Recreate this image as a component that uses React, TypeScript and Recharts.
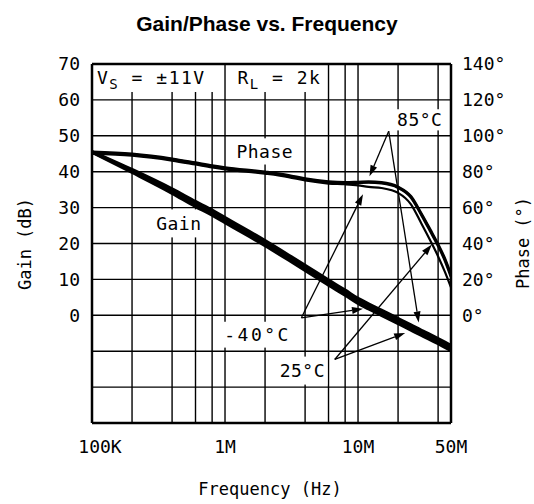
import React from 'react';
import { ComposedChart, Line, XAxis, YAxis, ReferenceLine, ReferenceArea } from 'recharts';

const freqs = [1e5, 2e5, 4e5, 6e5, 8e5, 1e6, 2e6, 3e6, 4e6, 6e6, 8e6, 1e7, 1.2e7, 1.5e7, 2e7, 2.5e7, 3e7, 3.5e7, 4e7, 4.5e7, 5e7];

// open loop gain (dB), three temperatures
const gain85 = [45.6, 40.6, 35.2, 31.7, 29.3, 27.2, 20.8, 16.8, 13.9, 9.8, 7.0, 4.7, 3.2, 1.4, -0.9, -2.7, -4.2, -5.4, -6.5, -7.5, -8.4];
const gain25 = [45.5, 40.2, 34.6, 31.0, 28.6, 26.5, 20.1, 16.1, 13.2, 9.1, 6.3, 4.0, 2.5, 0.7, -1.6, -3.4, -4.9, -6.1, -7.2, -8.2, -9.1];
const gainM40 = [45.4, 39.8, 34.0, 30.3, 27.9, 25.8, 19.4, 15.4, 12.5, 8.4, 5.6, 3.3, 1.8, 0.0, -2.3, -4.1, -5.6, -6.8, -7.9, -8.9, -9.8];

// phase (degrees), three temperatures
const phase85 = [91.0, 89.9, 87.2, 85.0, 83.4, 82.3, 79.9, 78.0, 76.1, 74.4, 74.0, 74.2, 74.4, 74.0, 71.5, 66.2, 56.5, 47.5, 39.5, 31.5, 22.5];
const phaseM40 = [90.6, 89.5, 86.8, 84.6, 83.0, 81.9, 79.5, 77.6, 75.7, 74.0, 73.6, 73.8, 74.0, 73.6, 71.1, 65.7, 55.9, 46.8, 38.7, 30.6, 21.5];
const phase25 = [90.0, 88.9, 86.2, 84.0, 82.4, 81.3, 78.9, 77.0, 75.1, 73.4, 73.0, 72.4, 71.5, 70.9, 68.2, 61.8, 51.0, 41.5, 32.8, 24.2, 15.5];

const xTicks = [1e5, 1e6, 1e7, 5e7];
const xTickLabels = ['100K', '1M', '10M', '50M'];
const gainTicks = [0, 10, 20, 30, 40, 50, 60, 70];
const phaseTicks = [0, 20, 40, 60, 80, 100, 120, 140];
const gridFreqs = [2e5, 4e5, 6e5, 8e5, 1e6, 2e6, 4e6, 6e6, 8e6, 1e7, 2e7, 4e7];
const gridGains = [-20, -10, 0, 10, 20, 30, 40, 50, 60];

// callout arrows in (Hz, dB): from -> to
const arrows = [
  [17.0e6, 51.3, 12.2e6, 38.7],
  [17.0e6, 51.3, 28.6e6, -2.0],
  [3.75e6, -0.7, 10.9e6, 1.8],
  [3.75e6, -0.7, 10.9e6, 33.7],
  [6.68e6, -12.3, 22.6e6, -4.9],
  [6.68e6, -12.3, 35.9e6, 19.7],
];

// text callouts with a white box (Hz, dB)
const callouts = [
  { text: 'Phase', f1: 1.17e6, f2: 3.38e6, g1: 42.0, g2: 49.3 },
  { text: 'Gain', f1: 2.86e5, f2: 7.07e5, g1: 21.7, g2: 29.5 },
  { text: '85°C', f1: 18.2e6, f2: 46.6e6, g1: 51.5, g2: 57.4 },
  { text: '-40°C', f1: 8.4e5, f2: 3.68e6, g1: -9.0, g2: -1.8 },
  { text: '25°C', f1: 2.47e6, f2: 5.89e6, g1: -19.3, g2: -11.5 },
];

const data = freqs.map((f, i) => ({
  f,
  gain85: gain85[i],
  gain25: gain25[i],
  gainM40: gainM40[i],
  phase85: phase85[i],
  phaseM40: phaseM40[i],
  phase25: phase25[i],
}));

const FONT = '"DejaVu Sans Mono", monospace';
const FS = 18;

const Arrow = (p: any) => {
  const { x1, y1, x2, y2 } = p;
  const dx = x2 - x1;
  const dy = y2 - y1;
  const len = Math.hypot(dx, dy) || 1;
  const ux = dx / len;
  const uy = dy / len;
  const hl = 11;
  const hw = 3.5;
  const bx = x2 - ux * hl;
  const by = y2 - uy * hl;
  return (
    <g>
      <line x1={x1} y1={y1} x2={bx} y2={by} stroke="#000" strokeWidth={1.3} />
      <polygon
        points={`${x2},${y2} ${bx + uy * hw},${by - ux * hw} ${bx - uy * hw},${by + ux * hw}`}
        fill="#000"
      />
    </g>
  );
};

const calloutShape = (text: string) => (p: any) => (
  <g>
    <rect x={p.x} y={p.y} width={p.width} height={p.height} fill="#fff" />
    <text
      x={p.x + p.width / 2}
      y={p.y + p.height / 2 + FS * 0.36}
      textAnchor="middle"
      fontFamily={FONT}
      fontSize={FS}
      fill="#000"
      letterSpacing={text === '-40°C' ? 2.5 : 0.5}
    >
      {text}
    </text>
  </g>
);

const condShape = (main: string, sub: string, rest: string, pad: number) => (p: any) => (
  <g>
    <rect x={p.x} y={p.y} width={p.width} height={p.height} fill="#fff" />
    <text
      x={p.x + pad}
      y={p.y + p.height / 2 + FS * 0.36}
      fontFamily={FONT}
      fontSize={FS}
      fill="#000"
      letterSpacing={1.5}
    >
      {main}
      <tspan dy={5} fontSize={14}>{sub}</tspan>
      <tspan dy={-5}>{rest}</tspan>
    </text>
  </g>
);

const XTick = (p: any) => {
  const i = xTicks.indexOf(p.payload.value);
  return (
    <text
      x={p.x + (i === 0 ? 8 : 0)}
      y={p.y}
      dy="0.73em"
      textAnchor="middle"
      fontFamily={FONT}
      fontSize={FS}
      fill="#000"
    >
      {xTickLabels[i]}
    </text>
  );
};

const axisTitle = (extra: React.CSSProperties): React.CSSProperties => ({
  position: 'absolute',
  fontFamily: FONT,
  fontSize: 17,
  color: '#000',
  whiteSpace: 'nowrap',
  transform: 'translate(-50%, -50%)',
  ...extra,
});

export default function App() {
  return (
    <div style={{ position: 'relative', width: 534, height: 504, background: '#fff' }}>
      <style>{'body{margin:0}'}</style>
      <div
        style={{
          position: 'absolute',
          top: 14,
          left: 0,
          width: 534,
          textAlign: 'center',
          fontFamily: '"Liberation Sans", Arial, sans-serif',
          fontWeight: 'bold',
          fontSize: 21,
          lineHeight: '20px',
        }}
      >
        Gain/Phase vs. Frequency
      </div>
      <ComposedChart width={534} height={504} data={data} margin={{ top: 64, right: 0, bottom: 0, left: 0 }}>
        <XAxis
          dataKey="f"
          type="number"
          scale="log"
          domain={[1e5, 5e7]}
          ticks={xTicks}
          tick={<XTick />}
          tickLine={false}
          tickMargin={11}
          height={81}
          axisLine={{ stroke: '#000', strokeWidth: 2.5 }}
          allowDataOverflow
        />
        <YAxis
          yAxisId="gain"
          type="number"
          domain={[-30, 70]}
          ticks={gainTicks}
          width={92}
          tickLine={false}
          tickMargin={6}
          tick={{ fill: '#000', fontSize: FS, fontFamily: FONT }}
          axisLine={{ stroke: '#000', strokeWidth: 2.5 }}
          allowDataOverflow
        />
        <YAxis
          yAxisId="phase"
          orientation="right"
          type="number"
          domain={[-60, 140]}
          ticks={phaseTicks}
          tickFormatter={(v: number) => `${v}°`}
          width={83}
          tickLine={false}
          tickMargin={5}
          tick={{ fill: '#000', fontSize: FS, fontFamily: FONT }}
          axisLine={{ stroke: '#000', strokeWidth: 2.5 }}
          allowDataOverflow
        />

        {gridGains.map((g) => (
          <ReferenceLine key={`h${g}`} yAxisId="gain" y={g} stroke="#000" strokeWidth={1.4} zIndex={50} />
        ))}
        {gridFreqs.map((f) => (
          <ReferenceLine key={`v${f}`} yAxisId="gain" x={f} stroke="#000" strokeWidth={1.4} zIndex={50} />
        ))}

        <ReferenceArea
          yAxisId="gain"
          x1={1e5}
          x2={0.975e6}
          y1={62.2}
          y2={70}
          zIndex={150}
          shape={condShape('V', 'S', ' = ±11V', 5)}
        />
        <ReferenceArea
          yAxisId="gain"
          x1={1.025e6}
          x2={5.85e6}
          y1={62.2}
          y2={70}
          zIndex={150}
          shape={condShape('R', 'L', ' = 2k', 11)}
        />
        {callouts.map((c) => (
          <ReferenceArea
            key={c.text}
            yAxisId="gain"
            x1={c.f1}
            x2={c.f2}
            y1={c.g1}
            y2={c.g2}
            zIndex={150}
            shape={calloutShape(c.text)}
          />
        ))}

        <Line yAxisId="gain" type="monotone" dataKey="gain85" stroke="#000" strokeWidth={3.2} dot={false} activeDot={false} isAnimationActive={false} />
        <Line yAxisId="gain" type="monotone" dataKey="gain25" stroke="#000" strokeWidth={3.2} dot={false} activeDot={false} isAnimationActive={false} />
        <Line yAxisId="gain" type="monotone" dataKey="gainM40" stroke="#000" strokeWidth={3.2} dot={false} activeDot={false} isAnimationActive={false} />
        <Line yAxisId="phase" type="monotone" dataKey="phase85" stroke="#000" strokeWidth={2.8} dot={false} activeDot={false} isAnimationActive={false} />
        <Line yAxisId="phase" type="monotone" dataKey="phaseM40" stroke="#000" strokeWidth={2.8} dot={false} activeDot={false} isAnimationActive={false} />
        <Line yAxisId="phase" type="monotone" dataKey="phase25" stroke="#000" strokeWidth={2.2} dot={false} activeDot={false} isAnimationActive={false} />

        {arrows.map((a, i) => (
          <ReferenceLine
            key={`a${i}`}
            yAxisId="gain"
            segment={[{ x: a[0], y: a[1] }, { x: a[2], y: a[3] }]}
            shape={Arrow}
            zIndex={450}
          />
        ))}

        <ReferenceLine yAxisId="gain" y={70} stroke="#000" strokeWidth={2.5} zIndex={500} />
      </ComposedChart>
      <div style={axisTitle({ left: 24.5, top: 244, transform: 'translate(-50%, -50%) rotate(-90deg)' })}>Gain (dB)</div>
      <div style={axisTitle({ left: 522.5, top: 242.5, transform: 'translate(-50%, -50%) rotate(-90deg)' })}>Phase (°)</div>
      <div style={axisTitle({ left: 270, top: 488.5 })}>Frequency (Hz)</div>
    </div>
  );
}
